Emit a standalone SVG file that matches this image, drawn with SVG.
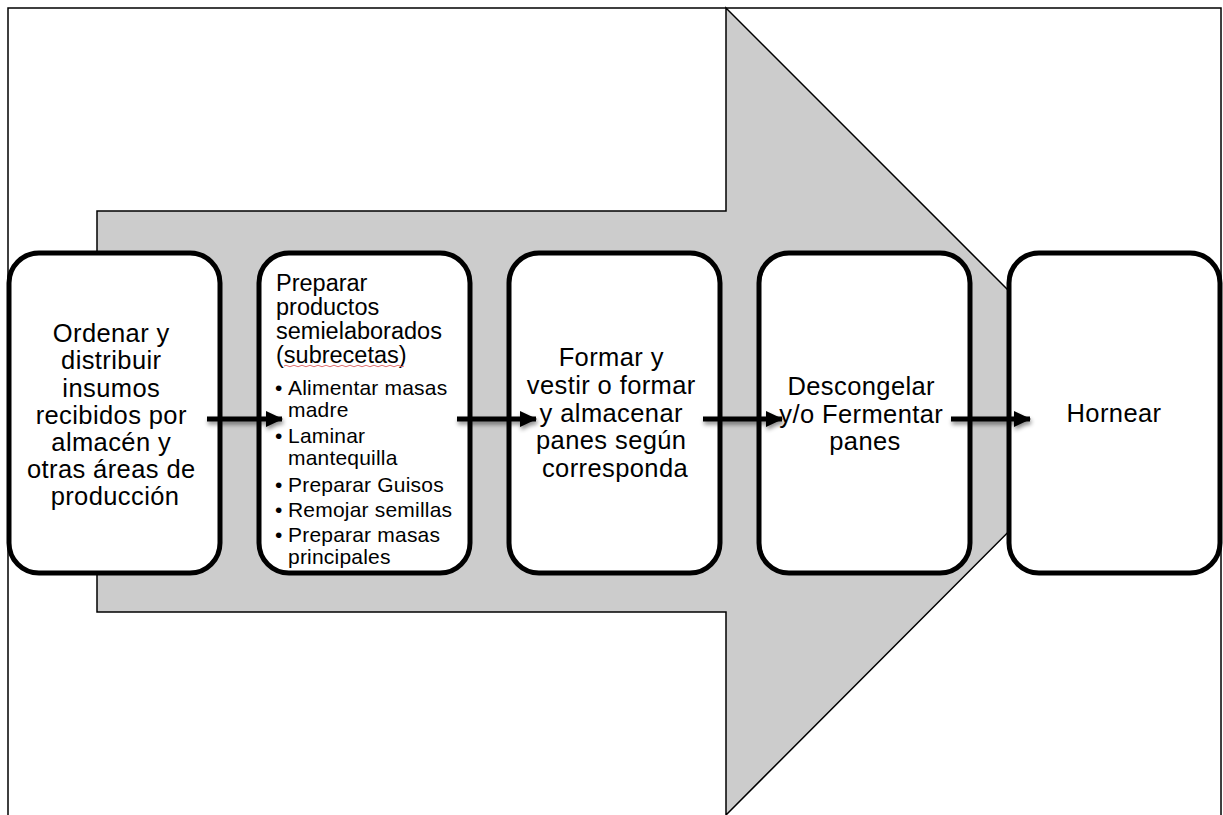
<svg xmlns="http://www.w3.org/2000/svg" width="1223" height="815" viewBox="0 0 1223 815">
  <style>
    .frame { fill: #ffffff; stroke: #000000; stroke-width: 1.5; }
    .band { fill: #cccccc; stroke: #000000; stroke-width: 1.5; stroke-linejoin: miter; }
    .step { fill: #ffffff; stroke: #000000; stroke-width: 5; }
    .lbl { font-family: "Liberation Sans", Arial, sans-serif; font-size: 25.5px; letter-spacing: 0.4px; fill: #000000; text-anchor: middle; }
    .head { font-family: "Liberation Sans", Arial, sans-serif; font-size: 23.5px; fill: #000000; }
    .item { font-family: "Liberation Sans", Arial, sans-serif; font-size: 21px; letter-spacing: 0.2px; fill: #000000; }
    .flow { fill: none; stroke: #000000; stroke-width: 5; }
  </style>
  <defs>
    <marker id="tip" markerUnits="userSpaceOnUse" markerWidth="18" markerHeight="18" viewBox="0 0 18 18" refX="16" refY="9" orient="auto">
      <path d="M0,1 L17,9 L0,17 Z" fill="#000000"/>
    </marker>
    <filter id="soft" filterUnits="userSpaceOnUse" x="190" y="395" width="860" height="50">
      <feDropShadow dx="1" dy="3" stdDeviation="2" flood-color="#000000" flood-opacity="0.45"/>
    </filter>
  </defs>

  <!-- page frame -->
  <rect class="frame" x="8" y="8" width="1213" height="830"/>

  <!-- wide background arrow -->
  <path class="band" d="M97,211 L726,211 L726,8 L1129,411 L726,815 L726,612 L97,612 Z"/>

  <!-- process steps -->
  <g id="step-ordenar">
    <rect class="step" x="9" y="253" width="211" height="320" rx="30" ry="30"/>
    <text class="lbl">
      <tspan x="115" y="342">Ordenar y</tspan>
      <tspan x="115" y="369">distribuir</tspan>
      <tspan x="115" y="397">insumos</tspan>
      <tspan x="115" y="424">recibidos por</tspan>
      <tspan x="115" y="451">almacén y</tspan>
      <tspan x="115" y="478">otras áreas de</tspan>
      <tspan x="115" y="505">producción</tspan>
    </text>
  </g>

  <g id="step-preparar">
    <rect class="step" x="259" y="253" width="211" height="320" rx="30" ry="30"/>
    <text class="head">
      <tspan x="276" y="291">Preparar</tspan>
      <tspan x="276" y="315">productos</tspan>
      <tspan x="276" y="339">semielaborados</tspan>
      <tspan x="276" y="363">(subrecetas)</tspan>
    </text>
    <path d="M284,366 q2,-1.5 4,0 t4,0 t4,0 t4,0 t4,0 t4,0 t4,0 t4,0 t4,0 t4,0 t4,0 t4,0 t4,0 t4,0 t4,0 t4,0 t4,0 t4,0 t4,0 t4,0 t4,0 t4,0 t4,0 t4,0 t4,0 t4,0 t4,0 t4,0 t4,0 t4,0" fill="none" stroke="#e07070" stroke-width="1"/>
    <text class="item">
      <tspan x="275" y="395">•</tspan><tspan x="288" y="395">Alimentar masas</tspan>
      <tspan x="288" y="417">madre</tspan>
      <tspan x="275" y="443">•</tspan><tspan x="288" y="443">Laminar</tspan>
      <tspan x="288" y="465">mantequilla</tspan>
      <tspan x="275" y="492">•</tspan><tspan x="288" y="492">Preparar Guisos</tspan>
      <tspan x="275" y="517">•</tspan><tspan x="288" y="517">Remojar semillas</tspan>
      <tspan x="275" y="542">•</tspan><tspan x="288" y="542">Preparar masas</tspan>
      <tspan x="288" y="564">principales</tspan>
    </text>
  </g>

  <g id="step-formar">
    <rect class="step" x="509" y="253" width="211" height="320" rx="30" ry="30"/>
    <text class="lbl">
      <tspan x="615" y="366">Formar y</tspan>
      <tspan x="615" y="394">vestir o formar</tspan>
      <tspan x="615" y="422">y almacenar</tspan>
      <tspan x="615" y="449">panes según</tspan>
      <tspan x="615" y="477">corresponda</tspan>
    </text>
  </g>

  <g id="step-fermentar">
    <rect class="step" x="759" y="253" width="211" height="320" rx="30" ry="30"/>
    <text class="lbl">
      <tspan x="865" y="395">Descongelar</tspan>
      <tspan x="865" y="423">y/o Fermentar</tspan>
      <tspan x="865" y="450">panes</tspan>
    </text>
  </g>

  <g id="step-hornear">
    <rect class="step" x="1009" y="253" width="211" height="320" rx="30" ry="30"/>
    <text class="lbl" x="1114" y="422">Hornear</text>
  </g>

  <!-- connectors between steps -->
  <g id="connectors" filter="url(#soft)">
    <line class="flow" x1="207" y1="419" x2="282" y2="419" marker-end="url(#tip)"/>
    <line class="flow" x1="457" y1="419" x2="536" y2="419" marker-end="url(#tip)"/>
    <line class="flow" x1="703" y1="419" x2="782" y2="419" marker-end="url(#tip)"/>
    <line class="flow" x1="951" y1="419" x2="1030" y2="419" marker-end="url(#tip)"/>
  </g>
</svg>
